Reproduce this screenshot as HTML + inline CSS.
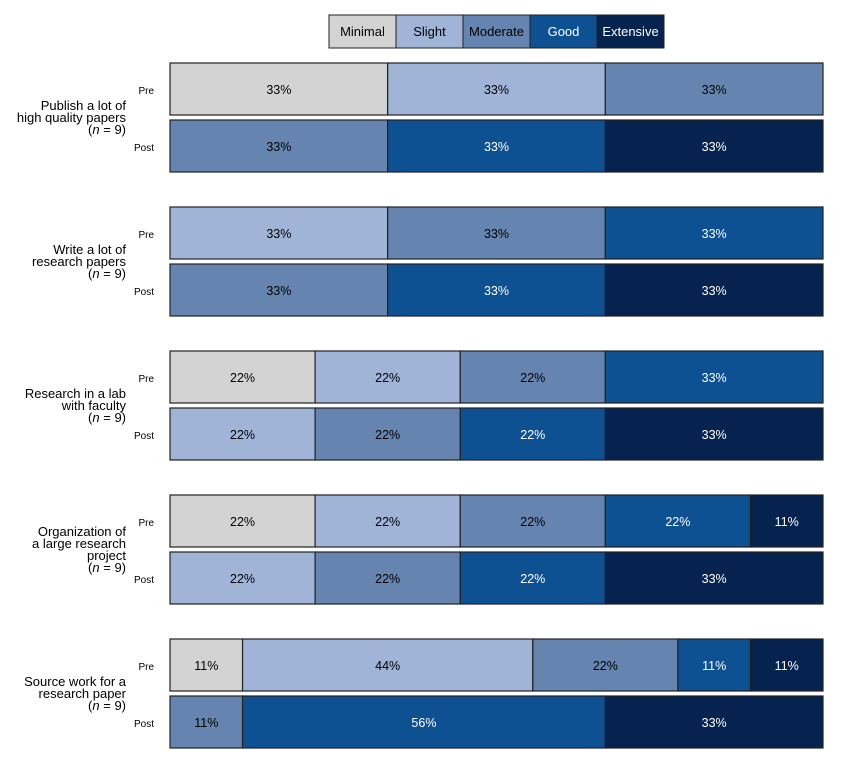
<!DOCTYPE html>
<html><head><meta charset="utf-8"><style>
body{margin:0;background:#fff;font-family:"Liberation Sans",sans-serif}
svg text{font-family:"Liberation Sans",sans-serif}
</style></head><body>
<svg id="c" width="864" height="768"></svg>
<script>
const categories=["Minimal","Slight","Moderate","Good","Extensive"];
const colors=["#d3d3d3","#a0b4d8","#6585b0","#0e5193","#06234f"];
const textColors=["#000","#000","#000","#fff","#fff"];
const itemLabels=[["Publish a lot of","high quality papers"],["Write a lot of","research papers"],["Research in a lab","with faculty"],["Organization of","a large research","project"],["Source work for a","research paper"]];
const preCounts=[[3,3,3,0,0],[0,3,3,3,0],[2,2,2,3,0],[2,2,2,2,1],[1,4,2,1,1]];
const postCounts=[[0,0,3,3,3],[0,0,3,3,3],[0,2,2,2,3],[0,2,2,2,3],[0,0,1,5,3]];
const nVals=[9,9,9,9,9];
const svg=document.getElementById('c');const NS='http://www.w3.org/2000/svg';
function mk(t,a,p){const e=document.createElementNS(NS,t);for(const k in a)e.setAttribute(k,a[k]);(p||svg).appendChild(e);return e;}
const X0=170,W=653;const xs=v=>X0+v*W;
const groupY=i=>63+i*144;
categories.forEach((c,i)=>{
 const g=mk('g',{});
 
 
 mk('rect',{x:329+i*67,y:15,width:67,height:33,fill:colors[i],stroke:'#222','stroke-width':1},g);
 const t=mk('text',{x:329+i*67+33.5,y:36,'text-anchor':'middle','font-size':13,fill:textColors[i]},g);t.textContent=c;
});
function drawBar(counts,y,name,n){
 const g=mk('g',{});
 
 
 let cum=0;
 counts.forEach((v,k)=>{
  if(!v)return;
  const x1=xs(cum/n),x2=xs((cum+v)/n);cum+=v;
  const r=mk('rect',{x:x1,y:y,width:x2-x1,height:52,fill:colors[k],stroke:'#222','stroke-width':1.2},g);
  
  
  const t=mk('text',{x:(x1+x2)/2,y:y+31,'text-anchor':'middle','font-size':12.5,fill:textColors[k]},g);
  t.textContent=Math.round(v/n*100)+'%';
 });
}
itemLabels.forEach((lines,i)=>{
 const y=groupY(i);
 drawBar(preCounts[i],y,'bar-pre-'+(i+1),nVals[i]);
 drawBar(postCounts[i],y+57,'bar-post-'+(i+1),nVals[i]);
 const p=mk('text',{x:154,y:y+31,'text-anchor':'end','font-size':10});p.textContent='Pre';
 
 const q=mk('text',{x:154,y:y+88,'text-anchor':'end','font-size':10});q.textContent='Post';
 
 const all=lines.concat(['n']);const h=12;const top=y+57-(all.length*h)/2+h-4;
 const t=mk('text',{'text-anchor':'end','font-size':13});
 
 lines.forEach((l,j)=>{const s=mk('tspan',{x:126,y:top+j*h},t);s.textContent=l;});
 const s=mk('tspan',{x:126,y:top+lines.length*h},t);s.textContent='(';
 const it=mk('tspan',{'font-style':'italic'},t);it.textContent='n';
 const s2=mk('tspan',{},t);s2.textContent=' = '+nVals[i]+')';
});
</script>
</body></html>
